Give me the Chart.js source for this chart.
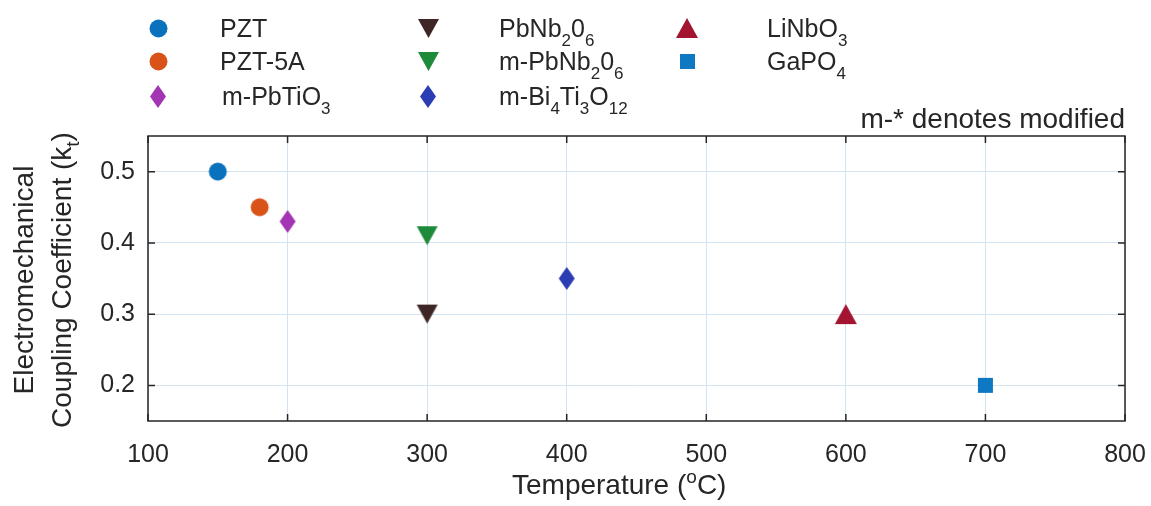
<!DOCTYPE html>
<html><head><meta charset="utf-8">
<script src="https://cdn.jsdelivr.net/npm/chart.js@4/dist/chart.umd.min.js"></script>
<style>
html,body{margin:0;padding:0;background:#fff;}
#wrap{position:relative;width:1151px;height:506px;font-family:"Liberation Sans",Arial,sans-serif;color:#262626;overflow:hidden;}
#c{position:absolute;left:0;top:0;}
.txt{position:absolute;font-size:25px;line-height:26px;white-space:nowrap;}
.big{font-size:28px;line-height:28px;}
.txt sub{font-size:0.68em;vertical-align:-0.5em;line-height:0;}
.txt sup{font-size:0.68em;vertical-align:0.6em;line-height:0;}
.mk{position:absolute;}
#ytitle{position:absolute;width:400px;left:-157px;top:242px;height:76px;text-align:center;font-size:28px;line-height:38px;transform:rotate(-90deg);transform-origin:200px 38px;}
#ytitle sub{font-size:0.68em;vertical-align:-0.4em;line-height:0;}
</style>
</head><body>
<div id="wrap">
<canvas id="c" width="1151" height="506"></canvas>
</div>
<script>
// ---- data ----
const seriesLabels = ['PZT','PZT-5A','m-PbTiO<sub>3</sub>','PbNb<sub>2</sub>0<sub>6</sub>','m-PbNb<sub>2</sub>0<sub>6</sub>','m-Bi<sub>4</sub>Ti<sub>3</sub>O<sub>12</sub>','LiNbO<sub>3</sub>','GaPO<sub>4</sub>'];
const temperatures = [150, 180, 200, 300, 300, 400, 600, 700];
const couplingKt   = [0.50, 0.45, 0.43, 0.30, 0.41, 0.35, 0.30, 0.20];
const xTicks = [100, 200, 300, 400, 500, 600, 700, 800];
const yTicks = [0.2, 0.3, 0.4, 0.5];
const xTitle = 'Temperature (<sup>o</sup>C)';
const yTitleLines = ['Electromechanical', 'Coupling Coefficient (k<sub>t</sub>)'];
const noteText = 'm-* denotes modified';

// ---- styles ----
const colors = ['#0A72BD','#D95319','#A335B5','#3F2626','#1E8B3A','#2A3DB3','#A2142F','#0F78C2'];
const shapes = ['circle','circle','diamond','triDown','triDown','diamond','triUp','square'];
// legend layout: [markerX, textX, rowY]
const legendPos = [[158,220,28],[158,220,61],[158,222,96],[428,499,28],[428,499,61],[428,499,96],[687,767,28],[687,767,61]];

function makeMarker(shape, color){
  const dims = {circle:[19,19], diamond:[16,23], triDown:[21,19], triUp:[22,20], square:[15,15]}[shape];
  const c = document.createElement('canvas');
  c.width = dims[0]+2; c.height = dims[1]+2;
  const g = c.getContext('2d');
  const w = dims[0], h = dims[1], ox = 1, oy = 1;
  g.fillStyle = color; g.strokeStyle = color; g.lineWidth = 1;
  g.beginPath();
  if (shape === 'circle') { g.arc(ox+w/2, oy+h/2, w/2-0.5, 0, Math.PI*2); }
  else if (shape === 'diamond') { g.moveTo(ox+w/2,oy); g.lineTo(ox+w,oy+h/2); g.lineTo(ox+w/2,oy+h); g.lineTo(ox,oy+h/2); g.closePath(); }
  else if (shape === 'triDown') { g.moveTo(ox,oy); g.lineTo(ox+w,oy); g.lineTo(ox+w/2,oy+h); g.closePath(); }
  else if (shape === 'triUp') { g.moveTo(ox+w/2,oy); g.lineTo(ox+w,oy+h); g.lineTo(ox,oy+h); g.closePath(); }
  else { g.rect(ox,oy,w,h); }
  g.fill();
  return c;
}
const markers = shapes.map((s,i) => makeMarker(s, colors[i]));

const wrap = document.getElementById('wrap');
// legend
seriesLabels.forEach((lab,i) => {
  const [mx, tx, ry] = legendPos[i];
  const m = makeMarker(shapes[i], colors[i]);
  m.className = 'mk';
  m.style.left = (mx - m.width/2) + 'px';
  m.style.top = (ry - m.height/2) + 'px';
  wrap.appendChild(m);
  const t = document.createElement('div');
  t.className = 'txt';
  t.innerHTML = lab;
  t.style.left = tx + 'px';
  t.style.top = (ry - 13) + 'px';
  wrap.appendChild(t);
});
// note
const note = document.createElement('div');
note.className = 'txt big'; note.textContent = noteText;
note.style.right = (1151-1125) + 'px'; note.style.top = '105px';
wrap.appendChild(note);
// x title
const xt = document.createElement('div');
xt.className = 'txt big'; xt.innerHTML = xTitle;
xt.style.left = '512px'; xt.style.top = '471px';
wrap.appendChild(xt);
// y title
const yt = document.createElement('div');
yt.id = 'ytitle'; yt.innerHTML = yTitleLines.join('<br>');
wrap.appendChild(yt);

const boxPlugin = {
  id: 'boxPlugin',
  afterDatasetsDraw(chart){
    const {ctx, chartArea:a, scales} = chart;
    ctx.save();
    ctx.strokeStyle = '#262626'; ctx.lineWidth = 1.5;
    ctx.strokeRect(a.left, a.top, a.right-a.left, a.bottom-a.top);
    const L = 7;
    ctx.beginPath();
    xTicks.forEach(v => { const p = scales.x.getPixelForValue(v);
      ctx.moveTo(p, a.bottom); ctx.lineTo(p, a.bottom-L);
      ctx.moveTo(p, a.top); ctx.lineTo(p, a.top+L); });
    yTicks.forEach(v => { const p = scales.y.getPixelForValue(v);
      ctx.moveTo(a.left, p); ctx.lineTo(a.left+L, p);
      ctx.moveTo(a.right, p); ctx.lineTo(a.right-L, p); });
    ctx.stroke();
    ctx.restore();
  }
};

const tickFont = {family:'"Liberation Sans", Arial, sans-serif', size:25};
new Chart(document.getElementById('c'), {
  type: 'scatter',
  data: {
    datasets: temperatures.map((t,i) => ({
      label: seriesLabels[i].replace(/<[^>]+>/g,''),
      data: [{x: t, y: couplingKt[i]}],
      pointStyle: markers[i],
      pointRadius: 10,
      backgroundColor: colors[i],
      borderColor: colors[i]
    }))
  },
  options: {
    responsive: false,
    devicePixelRatio: 1,
    animation: false,
    events: [],
    layout: { padding: {top: 136, right: 26, left: 0, bottom: 0} },
    plugins: { legend: {display:false}, tooltip: {enabled:false} },
    scales: {
      x: {
        type: 'linear', min: 100, max: 800,
        afterBuildTicks: s => { s.ticks = xTicks.map(v => ({value: v})); },
        afterFit: s => { s.height = 85; s.paddingLeft = 0; s.paddingRight = 0; },
        ticks: { font: tickFont, color: '#262626', padding: 19, maxRotation: 0, autoSkip: false },
        grid: { color: '#d4e3f0', lineWidth: 1, drawTicks: false },
        border: { display: false }
      },
      y: {
        type: 'linear', min: 0.15, max: 0.55,
        afterBuildTicks: s => { s.ticks = yTicks.map(v => ({value: v})); },
        afterFit: s => { s.width = 148; s.paddingTop = 0; s.paddingBottom = 0; },
        ticks: { font: tickFont, color: '#262626', padding: 13, callback: v => v.toFixed(1), autoSkip: false },
        grid: { color: '#d4e3f0', lineWidth: 1, drawTicks: false },
        border: { display: false }
      }
    }
  },
  plugins: [boxPlugin]
});
</script>
</body></html>
